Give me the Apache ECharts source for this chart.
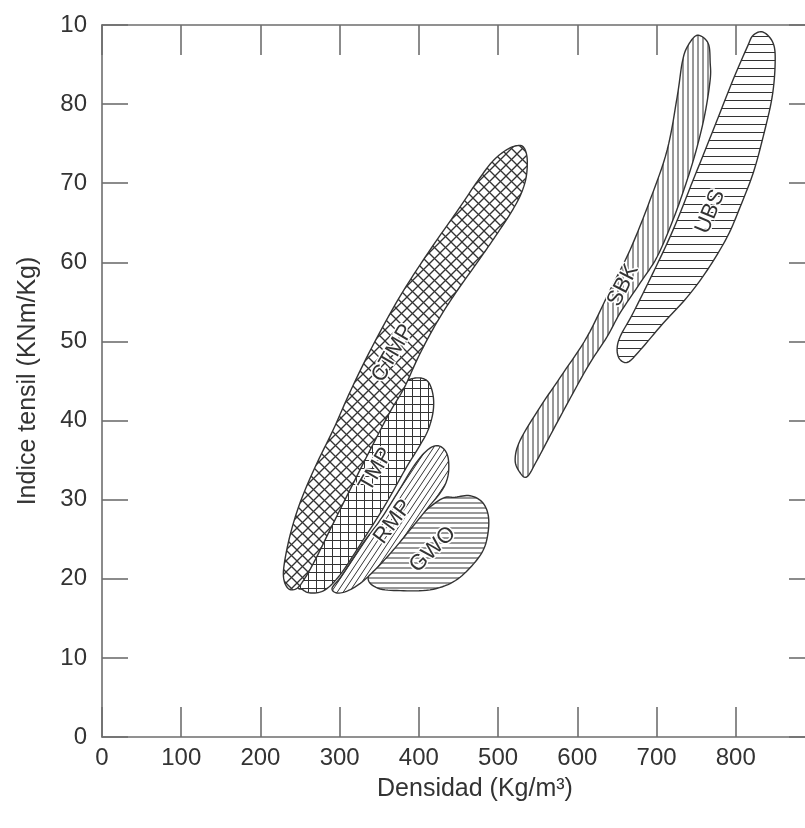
<!DOCTYPE html>
<html>
<head>
<meta charset="utf-8">
<script src="https://cdn.jsdelivr.net/npm/echarts@6/dist/echarts.min.js"></script>
<style>
  html, body { margin: 0; padding: 0; background: #fff; overflow: hidden; }
  #chart { width: 805px; height: 828px; }
</style>
</head>
<body>
<div id="chart"></div>
<script>
// tick labels as printed on the original (top one reads "10")
const yTickLabels = ['0', '10', '20', '30', '40', '50', '60', '70', '80', '10'];

// outlines of each pulp region, [densidad, indice tensil]
const ctmp = [
  [531.6, 74.6], [536.6, 73.2], [535.3, 70.7], [527.8, 68.4], [515.1, 66.1], [500.0, 63.8],
  [483.6, 61.4], [465.9, 58.9], [448.2, 56.4], [430.5, 53.7], [414.1, 50.9], [397.7, 47.7],
  [381.3, 44.1], [363.6, 41.1], [344.7, 37.5], [325.8, 33.8], [306.8, 30.0], [287.9, 26.2],
  [270.2, 22.6], [256.3, 20.1], [246.2, 18.8], [236.1, 18.7], [229.8, 19.8], [229.8, 21.7],
  [237.4, 25.5], [250.0, 29.6], [268.9, 34.1], [291.7, 38.8], [314.4, 43.9], [340.9, 49.3],
  [375.0, 55.5], [411.6, 61.2], [452.0, 67.0], [472.2, 70.0], [492.4, 72.7], [508.8, 74.1],
  [521.5, 74.7]
];
const tmp = [
  [399.0, 45.4], [411.6, 44.9], [417.9, 43.2], [417.9, 41.1], [411.6, 38.8], [401.5, 36.9],
  [382.6, 33.8], [357.3, 29.3], [325.8, 24.3], [300.5, 20.5], [281.6, 18.6], [265.1, 18.2],
  [253.8, 18.6], [247.5, 19.8], [275.2, 27.4], [306.8, 35.0], [338.4, 40.1], [363.6, 43.2],
  [382.6, 44.9]
];
const rmp = [
  [420.4, 36.8], [430.5, 36.5], [436.9, 35.3], [436.9, 33.1], [429.3, 31.2], [411.6, 29.0],
  [388.9, 26.2], [367.4, 23.6], [347.2, 21.4], [328.3, 19.6], [310.6, 18.5], [296.7, 18.2],
  [290.4, 18.8], [300.5, 20.1], [313.1, 22.0], [329.5, 24.5], [351.0, 27.4], [372.5, 30.8],
  [392.7, 34.1], [407.8, 36.0]
];
const gwo = [
  [445.7, 30.3], [464.6, 30.5], [479.8, 29.7], [487.4, 28.1], [487.4, 25.9], [481.1, 23.6],
  [464.6, 21.4], [443.2, 19.6], [414.1, 18.6], [376.3, 18.5], [348.5, 18.8], [335.9, 20.1],
  [351.0, 22.4], [388.9, 26.8], [426.8, 30.0]
];
const sbk = [
  [751.2, 88.7], [765.1, 87.7], [767.7, 85.2], [767.7, 83.1], [761.3, 78.9], [751.2, 74.6],
  [738.6, 70.4], [720.9, 65.4], [700.7, 60.7], [679.3, 57.4], [654.0, 53.6], [637.6, 50.6],
  [616.1, 47.3], [594.7, 43.5], [569.4, 38.8], [549.2, 35.0], [536.6, 32.9], [527.8, 33.4],
  [521.5, 35.0], [527.8, 37.5], [553.0, 41.7], [582.1, 46.0], [612.4, 50.6], [641.4, 56.5],
  [666.7, 61.6], [691.9, 67.9], [713.4, 74.2], [726.0, 80.9], [732.3, 85.2], [738.6, 87.2]
];
const ubs = [
  [834.6, 89.1], [847.2, 87.7], [849.7, 85.2], [845.9, 80.9], [834.6, 75.9], [822.0, 71.3],
  [805.5, 67.0], [789.1, 63.2], [763.9, 59.0], [738.6, 55.6], [708.3, 52.3], [679.3, 48.9],
  [664.1, 47.4], [654.0, 47.7], [650.2, 48.9], [654.0, 50.6], [670.4, 53.6], [695.7, 58.7],
  [720.9, 64.1], [746.2, 70.4], [771.4, 76.7], [796.7, 83.1], [814.4, 87.2], [822.0, 88.7]
];

// where the name of each region is written
const labelNames = ['TMP', 'GWO', 'CTMP', 'RMP', 'SBK', 'UBS'];
const labelPoints = [[346.0, 33.8], [417.5, 23.7], [367.0, 48.5], [367.4, 27.2], [657.8, 57.1], [768.0, 66.4]];

const HATCH = '#333';
const TXT = '#333';
const AXIS = '#6e6e6e';
const FONT = '"Liberation Sans", Arial, sans-serif';

// build a repeating hatch pattern on a small canvas
function makePattern(kind) {
  let w = 8, h = 8;
  if (kind === 'cross') { w = h = 11; }
  if (kind === 'grid') { w = h = 8; }
  if (kind === 'slant') { w = 6; h = 9; }
  if (kind === 'hfine') { w = h = 5; }
  if (kind === 'vfine') { w = h = 5; }
  if (kind === 'hwide') { w = h = 8; }
  const c = document.createElement('canvas');
  c.width = w; c.height = h;
  const ctx = c.getContext('2d');
  ctx.strokeStyle = HATCH;
  ctx.lineWidth = 1;
  const seg = (x1, y1, x2, y2) => {
    for (let dx = -w; dx <= w; dx += w) {
      for (let dy = -h; dy <= h; dy += h) {
        ctx.beginPath();
        ctx.moveTo(x1 + dx, y1 + dy);
        ctx.lineTo(x2 + dx, y2 + dy);
        ctx.stroke();
      }
    }
  };
  if (kind === 'cross') { ctx.lineWidth = 1.3; seg(0, 0, w, h); seg(0, h, w, 0); }
  if (kind === 'grid') { seg(0, 4.5, w, 4.5); seg(4.5, 0, 4.5, h); }
  if (kind === 'slant') { seg(0, h, w, 0); }
  if (kind === 'hfine' || kind === 'hwide') { seg(0, h / 2 + 0.5, w, h / 2 + 0.5); }
  if (kind === 'vfine') { seg(w / 2 + 0.5, 0, w / 2 + 0.5, h); }
  return { image: c, repeat: 'repeat' };
}

// closed Catmull-Rom through the outline pixels
function smoothRing(pts) {
  const out = [];
  const n = pts.length;
  for (let i = 0; i < n; i++) {
    const p0 = pts[(i - 1 + n) % n], p1 = pts[i], p2 = pts[(i + 1) % n], p3 = pts[(i + 2) % n];
    for (let t = 0; t < 1; t += 0.125) {
      const t2 = t * t, t3 = t2 * t;
      out.push([0, 1].map(k => 0.5 * ((2 * p1[k]) + (-p0[k] + p2[k]) * t +
        (2 * p0[k] - 5 * p1[k] + 4 * p2[k] - p3[k]) * t2 +
        (-p0[k] + 3 * p1[k] - 3 * p2[k] + p3[k]) * t3)));
    }
  }
  return out;
}

// drawing order: bottom first
const regions = [
  { pts: tmp, hatch: 'grid', rot: 60 },
  { pts: gwo, hatch: 'hfine', rot: 45 },
  { pts: ctmp, hatch: 'cross', rot: 60 },
  { pts: rmp, hatch: 'slant', rot: 53 },
  { pts: sbk, hatch: 'vfine', rot: 63 },
  { pts: ubs, hatch: 'hwide', rot: 67 }
];

const myChart = echarts.init(document.getElementById('chart'));

const series = regions.map((r, i) => {
  const pattern = makePattern(r.hatch);
  return {
    type: 'custom',
    name: labelNames[i],
    coordinateSystem: 'cartesian2d',
    silent: true,
    clip: false,
    data: [r.pts[0]],
    renderItem: (params, api) => {
      const points = smoothRing(r.pts.map(p => api.coord(p)));
      const lp = api.coord(labelPoints[i]);
      return {
        type: 'group',
        children: [
          { type: 'polygon', shape: { points: points }, style: { fill: '#fff' } },
          { type: 'polygon', shape: { points: points },
            style: { fill: pattern, stroke: '#333', lineWidth: 1.4 } },
          { type: 'text', x: lp[0], y: lp[1], rotation: r.rot * Math.PI / 180,
            style: { text: labelNames[i], font: '22px ' + FONT, fill: TXT,
              align: 'center', verticalAlign: 'middle', stroke: '#fff', lineWidth: 3 } }
        ]
      };
    }
  };
});

const tickStyle = { color: AXIS, width: 1.6 };

const option = {
  backgroundColor: '#fff',
  animation: false,
  grid: { left: 102, top: 25, width: 713, height: 712, outerBoundsMode: 'none' },
  xAxis: [
    {
      type: 'value', position: 'bottom', min: 0, max: 900, interval: 100,
      axisLine: { onZero: false, lineStyle: tickStyle },
      axisTick: { inside: true, length: 30, lineStyle: tickStyle },
      splitLine: { show: false },
      axisLabel: { color: TXT, fontSize: 24, fontFamily: FONT, margin: 9, showMaxLabel: false },
      name: 'Densidad (Kg/m³)', nameLocation: 'middle', nameGap: 40,
      nameTextStyle: { color: TXT, fontSize: 25, fontFamily: FONT, padding: [0, 0, 0, 33] }
    },
    {
      type: 'value', position: 'top', min: 0, max: 900, interval: 100,
      axisLine: { onZero: false, lineStyle: tickStyle },
      axisTick: { inside: true, length: 30, lineStyle: tickStyle },
      splitLine: { show: false },
      axisLabel: { show: false }
    }
  ],
  yAxis: [
    {
      type: 'value', position: 'left', min: 0, max: 90, interval: 10,
      axisLine: { show: true, onZero: false, lineStyle: tickStyle },
      axisTick: { show: true, inside: true, length: 26, lineStyle: tickStyle },
      splitLine: { show: false },
      axisLabel: { color: TXT, fontSize: 24, fontFamily: FONT, margin: 15,
        formatter: v => yTickLabels[Math.round(v / 10)] },
      name: 'Indice tensil (KNm/Kg)', nameLocation: 'middle', nameGap: 61,
      nameTextStyle: { color: TXT, fontSize: 25, fontFamily: FONT }
    },
    {
      type: 'value', position: 'right', min: 0, max: 90, interval: 10,
      axisLine: { show: true, onZero: false, lineStyle: tickStyle },
      axisTick: { show: true, inside: true, length: 26, lineStyle: tickStyle },
      splitLine: { show: false },
      axisLabel: { show: false }
    }
  ],
  series: series
};

myChart.setOption(option);
</script>
</body>
</html>
